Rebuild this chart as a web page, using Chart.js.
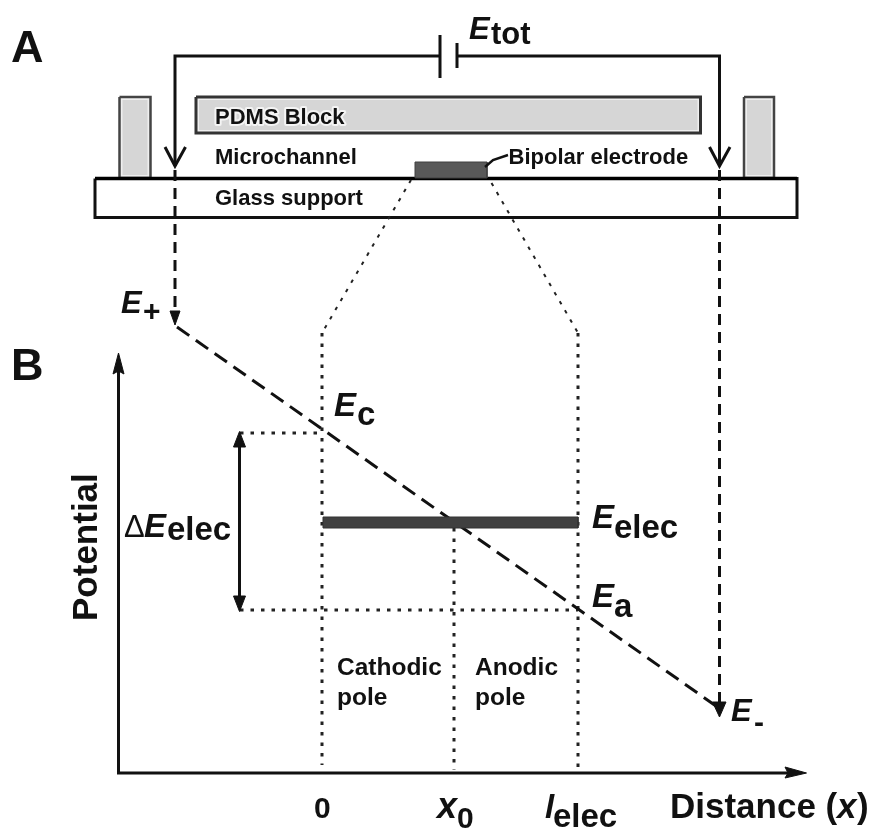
<!DOCTYPE html>
<html>
<head>
<meta charset="utf-8">
<title>Bipolar electrode potential diagram</title>
<script src="https://cdn.jsdelivr.net/npm/chart.js@4/dist/chart.umd.min.js"></script>
<style>
  html, body { margin: 0; padding: 0; background: #fff; }
  canvas { display: block; filter: blur(0.4px); }
</style>
</head>
<body>
<canvas id="diagram" width="873" height="830"></canvas>
<script>
// Everything is read off the reference, in its own x / y units
// Panel A: circuit and device
const wireLeft = [[440, 56], [175, 56], [175, 166]];
const wireRight = [[457, 56], [719.5, 56], [719.5, 166]];
const plateLong = [[440, 35], [440, 78]];
const plateShort = [[457, 43], [457, 68]];
const openHeadLeft = [[165, 147], [175, 166], [185.5, 147]];
const openHeadRight = [[709.5, 147], [719.5, 166], [730, 147]];
const postLeft = [[119.5, 97], [150.5, 97], [150.5, 178], [119.5, 178], [119.5, 97]];
const postLeftCore = [[122.5, 100], [147.5, 100], [147.5, 175], [122.5, 175], [122.5, 100]];
const postRight = [[744, 97], [774, 97], [774, 178], [744, 178], [744, 97]];
const postRightCore = [[747, 100], [771, 100], [771, 175], [747, 175], [747, 100]];
const pdmsBlock = [[196, 97], [700.5, 97], [700.5, 133], [196, 133], [196, 97]];
const pdmsCore = [[199, 100], [697.5, 100], [697.5, 130], [199, 130], [199, 100]];
const glassSupport = [[95, 178.5], [797, 178.5], [797, 217.5], [95, 217.5], [95, 178.5]];
const glassTop = [[95, 178.5], [797, 178.5]];
const electrodeA = [[415, 162], [487, 162], [487, 178], [415, 178], [415, 162]];
const electrodeLeader = [[485, 167], [493, 160], [508, 155]];

// Links between the panels
const dropLeft = [[175, 170], [175, 312]];
const dropRight = [[719.5, 170], [719.5, 703]];
const dropHeadLeft = [[170, 311], [180, 311], [175, 325], [170, 311]];
const dropHeadRight = [[712.5, 702], [726, 702], [719.5, 717], [712.5, 702]];
const zoomLeft = [[411, 180], [322, 333]];
const zoomRight = [[491.5, 183], [578, 333]];
const zeroDrop = [[322, 333], [322, 765]];
const elecDrop = [[578, 333], [578, 767]];

// Panel B: potential against distance
const yAxisLine = [[118.5, 370], [118.5, 773]];
const xAxisLine = [[117, 773], [790, 773]];
const yAxisHead = [[118.5, 353], [124, 374], [118.5, 371], [113, 374], [118.5, 353]];
const xAxisHead = [[806.5, 773], [785, 778], [788, 773], [785, 767], [806.5, 773]];
const potentialLine = [[177, 327], [716, 706]];
const elecBar = [[323, 517], [578, 517], [578, 528], [323, 528], [323, 517]];
const x0Drop = [[454, 528], [454, 770]];
const guideTop = [[240, 433], [322, 433]];
const guideBottom = [[240, 610], [578, 610]];
const deltaLine = [[239.5, 445], [239.5, 598]];
const deltaHeadTop = [[239.5, 431.5], [245.5, 447], [233.5, 447], [239.5, 431.5]];
const deltaHeadBottom = [[239.5, 611.5], [245.5, 596], [233.5, 596], [239.5, 611.5]];

// text, x, baseline y, size, style
const textLabels = [
    ['A', 11, 62, 45, 'bold'],
    ['B', 11, 380, 45, 'bold'],
    ['E', 469, 39, 31, 'italic bold'],
    ['tot', 491, 44, 31, 'bold'],
    ['Microchannel', 215, 164, 22, 'bold'],
    ['Bipolar electrode', 508.5, 164, 22, 'bold'],
    ['Glass support', 215, 205, 22, 'bold'],
    ['E', 121, 313, 31, 'italic bold'],
    ['+', 143, 321, 30, 'bold'],
    ['E', 334, 416, 33, 'italic bold'],
    ['c', 357, 425, 33, 'bold'],
    ['\u0394', 124, 537, 31, 'normal'],
    ['E', 144, 537, 33, 'italic bold'],
    ['elec', 167, 540, 33, 'bold'],
    ['E', 592, 528, 33, 'italic bold'],
    ['elec', 614, 538, 33, 'bold'],
    ['E', 592, 607, 33, 'italic bold'],
    ['a', 614, 617, 33, 'bold'],
    ['E', 731, 721, 31, 'italic bold'],
    ['-', 754, 732, 30, 'bold'],
    ['Cathodic', 337, 675, 24.5, 'bold'],
    ['pole', 337, 705, 24.5, 'bold'],
    ['Anodic', 475, 675, 24.5, 'bold'],
    ['pole', 475, 705, 24.5, 'bold'],
    ['0', 314, 818, 30, 'bold'],
    ['x', 437, 818, 36, 'italic bold'],
    ['0', 457, 828, 30, 'bold'],
    ['l', 545, 818, 33, 'italic bold'],
    ['elec', 553, 827, 33, 'bold'],
    ['Distance (', 670, 818, 35, 'bold'],
    ['x', 837, 818, 35, 'italic bold'],
    [')', 857, 818, 35, 'bold']
];
const pdmsLabel = ['PDMS Block', 215, 124, 22, 'bold'];
const yAxisTitle = ['Potential', 97, 621, 35, 'bold'];

function stroke(points, color, width, dash) {
    return {
        data: points,
        showLine: true,
        fill: false,
        pointRadius: 0,
        borderColor: color,
        borderWidth: width,
        borderDash: dash || [],
        borderCapStyle: 'butt',
        borderJoinStyle: 'miter',
        tension: 0
    };
}

function shape(points, fillColor, lineColor, width) {
    return {
        data: points,
        showLine: true,
        fill: 'shape',
        backgroundColor: fillColor,
        pointRadius: 0,
        borderColor: lineColor,
        borderWidth: width,
        borderJoinStyle: 'miter',
        tension: 0
    };
}

const dots = [3.5, 7];
const dashes = [11, 7];

// painted in this order, bottom first
const layers = [
    shape(postLeft, '#efefef', '#444444', 2.5),
    shape(postLeftCore, '#d6d6d6', '#d6d6d6', 0),
    shape(postRight, '#efefef', '#444444', 2.5),
    shape(postRightCore, '#d6d6d6', '#d6d6d6', 0),
    shape(pdmsBlock, '#efefef', '#333333', 3),
    shape(pdmsCore, '#d6d6d6', '#d6d6d6', 0),
    shape(glassSupport, '#ffffff', '#111111', 3),
    stroke(glassTop, '#000000', 3.5),
    shape(electrodeA, '#595959', '#404040', 1),
    stroke(electrodeLeader, '#111111', 2.5),
    stroke(wireLeft, '#111111', 3),
    stroke(wireRight, '#111111', 3),
    stroke(plateLong, '#111111', 3),
    stroke(plateShort, '#111111', 3),
    stroke(openHeadLeft, '#111111', 3),
    stroke(openHeadRight, '#111111', 3),
    stroke(dropLeft, '#111111', 3, dashes),
    stroke(dropRight, '#111111', 3, dashes),
    shape(dropHeadLeft, '#111111', '#111111', 1),
    shape(dropHeadRight, '#111111', '#111111', 1),
    stroke(zoomLeft, '#222222', 2, dots),
    stroke(zoomRight, '#222222', 2, dots),
    stroke(zeroDrop, '#222222', 3, dots),
    stroke(elecDrop, '#222222', 3, dots),
    stroke(x0Drop, '#222222', 3, dots),
    stroke(guideTop, '#222222', 3, dots),
    stroke(guideBottom, '#222222', 3, dots),
    stroke(yAxisLine, '#111111', 3),
    stroke(xAxisLine, '#111111', 3),
    shape(yAxisHead, '#111111', '#111111', 1),
    shape(xAxisHead, '#111111', '#111111', 1),
    stroke(deltaLine, '#111111', 3),
    shape(deltaHeadTop, '#111111', '#111111', 1),
    shape(deltaHeadBottom, '#111111', '#111111', 1),
    stroke(potentialLine, '#111111', 3, [15, 8]),
    shape(elecBar, '#404040', '#333333', 1)
];

// Chart.js paints the first dataset last, so flip the list
const datasets = layers.slice().reverse();

// Text labels, placed through the chart's scales
const labelPlugin = {
    id: 'diagramLabels',
    afterDatasetsDraw(chart) {
        const ctx = chart.ctx;
        const xs = chart.scales.x;
        const ys = chart.scales.y;
        ctx.save();
        ctx.fillStyle = '#111111';
        ctx.textBaseline = 'alphabetic';
        textLabels.forEach(function(item) {
            ctx.font = item[4] + ' ' + item[3] + 'px "Liberation Sans"';
            ctx.fillText(item[0], xs.getPixelForValue(item[1]), ys.getPixelForValue(item[2]));
        });
        // the block label sits on a pale halo in the reference
        ctx.font = pdmsLabel[4] + ' ' + pdmsLabel[3] + 'px "Liberation Sans"';
        ctx.strokeStyle = '#f4f4f4';
        ctx.lineWidth = 4;
        ctx.lineJoin = 'round';
        ctx.strokeText(pdmsLabel[0], xs.getPixelForValue(pdmsLabel[1]), ys.getPixelForValue(pdmsLabel[2]));
        ctx.fillText(pdmsLabel[0], xs.getPixelForValue(pdmsLabel[1]), ys.getPixelForValue(pdmsLabel[2]));
        ctx.translate(xs.getPixelForValue(yAxisTitle[1]), ys.getPixelForValue(yAxisTitle[2]));
        ctx.rotate(-Math.PI / 2);
        ctx.font = yAxisTitle[4] + ' ' + yAxisTitle[3] + 'px "Liberation Sans"';
        ctx.fillText(yAxisTitle[0], 0, 0);
        ctx.restore();
    }
};

new Chart(document.getElementById('diagram'), {
    type: 'scatter',
    data: { datasets: datasets },
    plugins: [labelPlugin],
    options: {
        responsive: false,
        animation: false,
        layout: { padding: 0 },
        plugins: {
            legend: { display: false },
            tooltip: { enabled: false }
        },
        scales: {
            x: { type: 'linear', min: 0, max: 873, display: false },
            y: { type: 'linear', min: 0, max: 830, reverse: true, display: false }
        }
    }
});
</script>
</body>
</html>
